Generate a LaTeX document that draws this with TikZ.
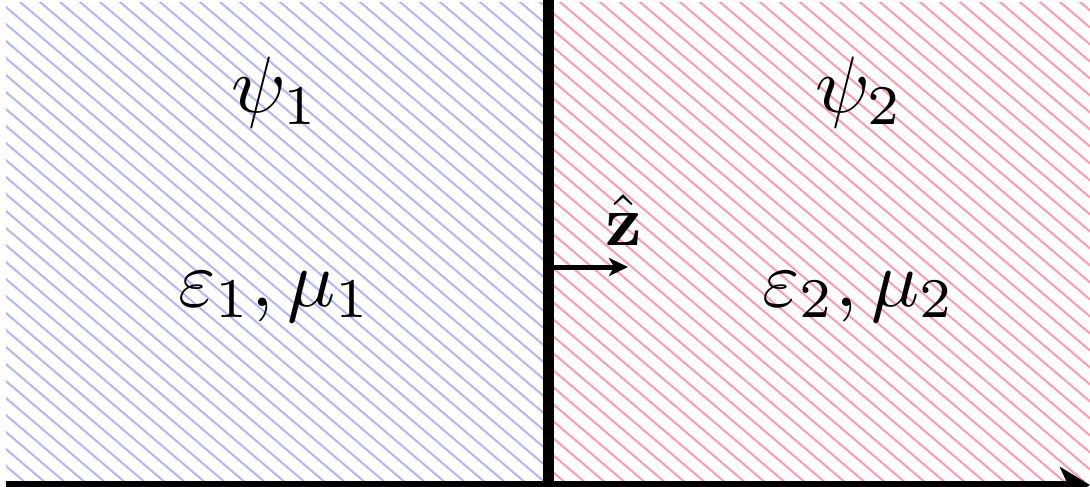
\documentclass[tikz,border=0pt]{standalone}
\usepackage{amsmath}
\usetikzlibrary{arrows.meta}
\definecolor{hblue}{RGB}{180,186,240}
\definecolor{hred}{RGB}{248,160,176}
\tikzset{
  hatchline/.style={line width=2.1pt},
  lbl/.style={font=\normalsize, scale=8, inner sep=0pt, anchor=base},
}
\begin{document}
\begin{tikzpicture}[x=1pt,y=-1pt]
\useasboundingbox (0,0) rectangle (1090,487);
\begin{scope}
  \clip (6,3) rectangle (543,480);
  \foreach \c in {-950,-933,...,500} {\draw[hatchline,hblue] (0,\c) -- (1100,\c+935);}
\end{scope}
\begin{scope}
  \clip (554,3) rectangle (1092,480);
  \foreach \c in {-950,-933,...,500} {\draw[hatchline,hred] (0,\c) -- (1100,\c+935);}
\end{scope}
\coordinate (top) at (548.5,0);
\coordinate (bot) at (548.5,487);
\draw[line width=11pt] (top) -- (bot);
\coordinate (axL) at (6,485);
\coordinate (axR) at (1090,485);
\draw[line width=8pt,-{Stealth[length=30pt,width=36pt,inset=8pt]}] (axL) -- (axR);
\coordinate (zs) at (548.5,267);
\coordinate (ze) at (628,267);
\draw[line width=5pt,-{Stealth[length=19pt,width=18pt,inset=5pt]}] (zs) -- (ze);
\node[lbl] (psi1) at (275,113) {$\psi_1$};
\node[lbl] (psi2) at (859,113) {$\psi_2$};
\node[lbl] (em1) at (275,306) {$\varepsilon_1,\mu_1$};
\node[lbl] (em2) at (859,306) {$\varepsilon_2,\mu_2$};
\node[lbl, scale=0.9] (zhat) at (623.5,245) {$\hat{\mathbf{z}}$};
\end{tikzpicture}
\end{document}
